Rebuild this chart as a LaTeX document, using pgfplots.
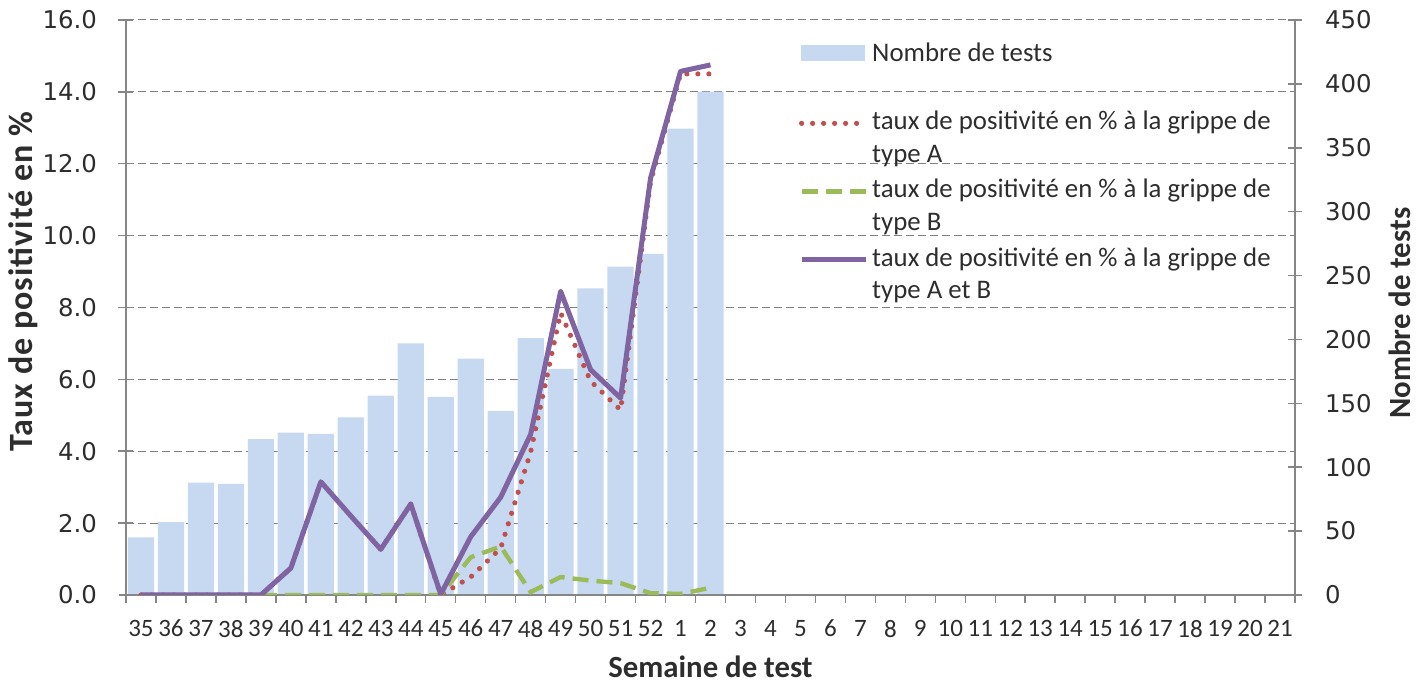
\documentclass[border=0pt]{standalone}
\usepackage{fontspec}
\setmainfont{Carlito}
\newfontfamily\dejavu{DejaVu Sans}
\usepackage{pgfplots}
\usepackage{pgfplotstable}
\pgfplotsset{compat=1.18}

\definecolor{barblue}{RGB}{198,217,241}
\definecolor{redA}{RGB}{192,80,77}
\definecolor{greenB}{RGB}{155,187,89}
\definecolor{purpleAB}{RGB}{128,100,162}
\definecolor{axisgray}{RGB}{134,134,134}
\definecolor{gridgray}{RGB}{128,128,128}
\definecolor{txt}{RGB}{45,45,45}

\newcommand\tickfont{\fontsize{12.5}{14}\selectfont}
\newcommand\numfont{\dejavu\fontsize{12.2}{14}\selectfont}
\newcommand\labfont{\bfseries\fontsize{15.4}{18}\selectfont}
\newcommand\leftlabfont{\bfseries\fontsize{17}{20}\selectfont\addfontfeatures{LetterSpace=3}}
\newcommand\legfont{\fontsize{13.4}{16.3}\selectfont}

\pgfplotstableread{
idx tests A B AB
0 45 0 0 0
1 57 0 0 0
2 88 0 0 0
3 87 0 0 0
4 122 0 0 0
5 127 0.75 0 0.75
6 126 3.15 0 3.15
7 139 2.2 0 2.2
8 156 1.27 0 1.27
9 197 2.53 0 2.53
10 155 0 0 0.02
11 185 0.5 1.05 1.62
12 144 1.3 1.35 2.72
13 201 3.98 0.08 4.47
14 177 7.85 0.5 8.45
15 240 5.95 0.4 6.27
16 257 5.15 0.33 5.48
17 267 11.5 0.05 11.6
18 365 14.5 0.03 14.57
19 394 14.5 0.2 14.75
}\data

\pgfplotsset{
  common/.style={
    scale only axis, width=584.5pt, height=287.5pt,
    xmin=-0.5, xmax=38.5,
    axis line style={axisgray, line width=0.75pt},
    tick style={axisgray, line width=0.75pt},
    /pgf/number format/assume math mode=true,
  },
  lineleg/.style={legend image code/.code={\draw[##1] (0pt,19.5pt) -- (32pt,19.5pt);}},
  barleg/.style={legend image code/.code={\fill[barblue] (0pt,16.8pt) rectangle (31.5pt,24.3pt);}},
}

\begin{document}
\begin{tikzpicture}
% grid and x tick marks
\begin{axis}[common, name=gridax,
  ymin=0, ymax=16,
  axis x line*=bottom, axis y line*=left,
  axis line style={draw=none},
  xtick={-0.5,0.5,...,38.5}, xticklabels={},
  ytick={2,4,...,16}, yticklabels={},
  ymajorgrids,
  major grid style={gridgray, line width=0.5pt, dash pattern=on 4pt off 2pt},
  major tick length=4pt, tick align=outside,
]
\end{axis}
% bars, right axis
\begin{axis}[common,
  ymin=0, ymax=450,
  axis y line*=right, axis x line=none, xtick=\empty,
  ytick={0,50,...,450},
  tick align=center, major tick length=7pt,
  yticklabel style={font=\numfont, text=txt, xshift=8pt},
  ylabel={Nombre de tests},
  ylabel style={font=\labfont, text=txt, at={(axis description cs:1.0898,0.49)}, anchor=center, rotate=0},
]
\addplot[ybar, bar width=0.875, fill=barblue, draw=none] table[x=idx, y=tests] {\data};
\end{axis}
% lines, left axis
\begin{axis}[common,
  ymin=0, ymax=16,
  axis y line*=left, axis x line*=bottom,
  xtick=\empty,
  extra x ticks={0,1,...,38},
  extra x tick labels={35,36,37,38,39,40,41,42,43,44,45,46,47,48,49,50,51,52,1,2,3,4,5,6,7,8,9,10,11,12,13,14,15,16,17,18,19,20,21},
  extra x tick style={major tick length=0pt, tick style={draw=none}},
  xticklabel style={font=\tickfont, text=txt, yshift=-9pt},
  ytick={0,2,...,16},
  tick align=center, major tick length=7pt,
  yticklabel style={font=\numfont, text=txt, xshift=-7.5pt, /pgf/number format/.cd, fixed, fixed zerofill, precision=1},
  xlabel={Semaine de test},
  xlabel style={font=\labfont, text=txt, inner sep=1pt, at={(axis description cs:0.5,-0.125)}, anchor=center},
  ylabel={Taux de positivité en \%},
  ylabel style={font=\leftlabfont, text=txt, at={(axis description cs:-0.0881,0.545)}, anchor=center},
  legend style={at={(rel axis cs:0.5757,0.967)}, anchor=north west, draw=none, fill=none,
    inner sep=0pt, outer sep=0pt, row sep=3pt, column sep=0pt,
    font=\legfont, text=txt,
    cells={anchor=base west, align=left, inner sep=1pt}},
]
\addlegendimage{barleg}
\addlegendentry{Nombre de tests\\\strut}
\addplot[redA, line width=2.6pt, line cap=round, dash pattern=on 0pt off 5.5pt, lineleg]
  table[x=idx, y=A] {\data};
\addlegendentry{taux de positivité en \% à la grippe de\\type A}
\addplot[greenB, line width=2.2pt, dash pattern=on 8pt off 4pt, lineleg]
  table[x=idx, y=B] {\data};
\addlegendentry{taux de positivité en \% à la grippe de\\type B}
\addplot[purpleAB, line width=2.5pt, line join=round, lineleg]
  table[x=idx, y=AB] {\data};
\addlegendentry{taux de positivité en \% à la grippe de\\type A et B}
\end{axis}
\pgfresetboundingbox
\path[use as bounding box] ([shift={(-63pt,-44pt)}]gridax.south west) rectangle ([shift={(66pt,10pt)}]gridax.north east);
\end{tikzpicture}
\end{document}
